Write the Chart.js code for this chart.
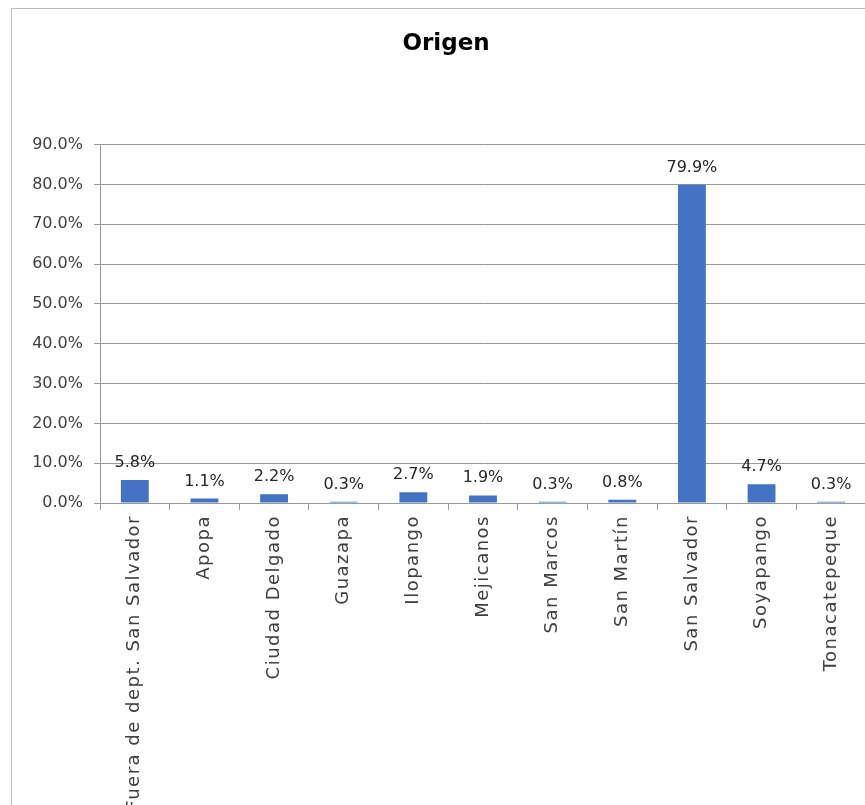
<!DOCTYPE html>
<html><head><meta charset="utf-8">
<script src="https://cdn.jsdelivr.net/npm/chart.js@4.4.0/dist/chart.umd.min.js"></script>
<style>
html,body{margin:0;padding:0;background:#fff;overflow:hidden;width:865px;height:805px;}
#frame{position:absolute;left:11px;top:8px;width:868px;height:830px;border:1px solid #bfbfbf;background:#fff;}
#wrap{position:absolute;left:0;top:0;width:868px;height:830px;}
</style></head><body>
<div id="frame"><div id="wrap"><canvas id="c"></canvas></div></div>
<script>
const categories = ["Fuera de dept. San Salvador","Apopa","Ciudad Delgado","Guazapa","Ilopango","Mejicanos","San Marcos","San Martín","San Salvador","Soyapango","Tonacatepeque"];
const values = [5.8, 1.1, 2.2, 0.3, 2.7, 1.9, 0.3, 0.8, 79.9, 4.7, 0.3];
const yMin = 0, yMax = 90, yStep = 10;
const titleText = "Origen";

const FONT = "'Century Gothic', 'DejaVu Sans', sans-serif";
const GRID = '#9a9a9a';

const valueLabels = {
  id: 'valueLabels',
  afterDatasetsDraw(chart) {
    const ctx = chart.ctx;
    const meta = chart.getDatasetMeta(0);
    ctx.save();
    ctx.font = "16px " + FONT;
    ctx.fillStyle = '#262626';
    ctx.textAlign = 'center';
    ctx.textBaseline = 'alphabetic';
    meta.data.forEach((bar, i) => {
      ctx.fillText(values[i].toFixed(1) + '%', bar.x, bar.y - 13);
    });
    ctx.restore();
  }
};

new Chart(document.getElementById('c'), {
  type: 'bar',
  data: {
    labels: categories,
    datasets: [{
      data: values,
      backgroundColor: '#4472C4',
      borderWidth: 0,
      categoryPercentage: 1.0,
      barPercentage: 0.4
    }]
  },
  options: {
    responsive: true,
    maintainAspectRatio: false,
    animation: false,
    layout: { padding: 0 },
    plugins: {
      legend: { display: false },
      tooltip: { enabled: false },
      title: {
        display: true,
        text: titleText,
        color: '#000000',
        font: { family: FONT, size: 23, weight: 'bold', lineHeight: 1.2 },
        padding: { top: 21, bottom: 87 }
      }
    },
    scales: {
      x: {
        grid: { display: true, drawOnChartArea: false, drawTicks: true, tickLength: 7, color: GRID, offset: true },
        border: { display: true, color: GRID },
        ticks: {
          autoSkip: false, minRotation: 90, maxRotation: 90, padding: 5,
          color: '#404040', font: { family: FONT, size: 18 }
        },
        afterFit(scale) {
          scale.height = 336;
          if (!scale._lsPatched) {
            const orig = scale.drawLabels;
            scale.drawLabels = function (area) {
              const ctx = this.ctx;
              const prev = ctx.letterSpacing;
              ctx.letterSpacing = '1.5px';
              orig.call(this, area);
              ctx.letterSpacing = prev || '0px';
            };
            scale._lsPatched = true;
          }
        }
      },
      y: {
        min: yMin, max: yMax,
        grid: { color: GRID, drawTicks: true, tickLength: 6 },
        border: { display: true, color: GRID },
        ticks: {
          stepSize: yStep, padding: 11, color: '#404040',
          font: { family: FONT, size: 16 },
          callback: v => Number(v).toFixed(1) + '%'
        },
        afterFit(scale) { scale.width = 88; }
      },
      yRight: {
        position: 'right',
        display: true,
        min: yMin, max: yMax,
        grid: { display: false, drawTicks: false },
        border: { display: false },
        ticks: { display: false },
        afterFit(scale) { scale.width = 14; }
      }
    }
  },
  plugins: [valueLabels]
});
</script>
</body></html>
